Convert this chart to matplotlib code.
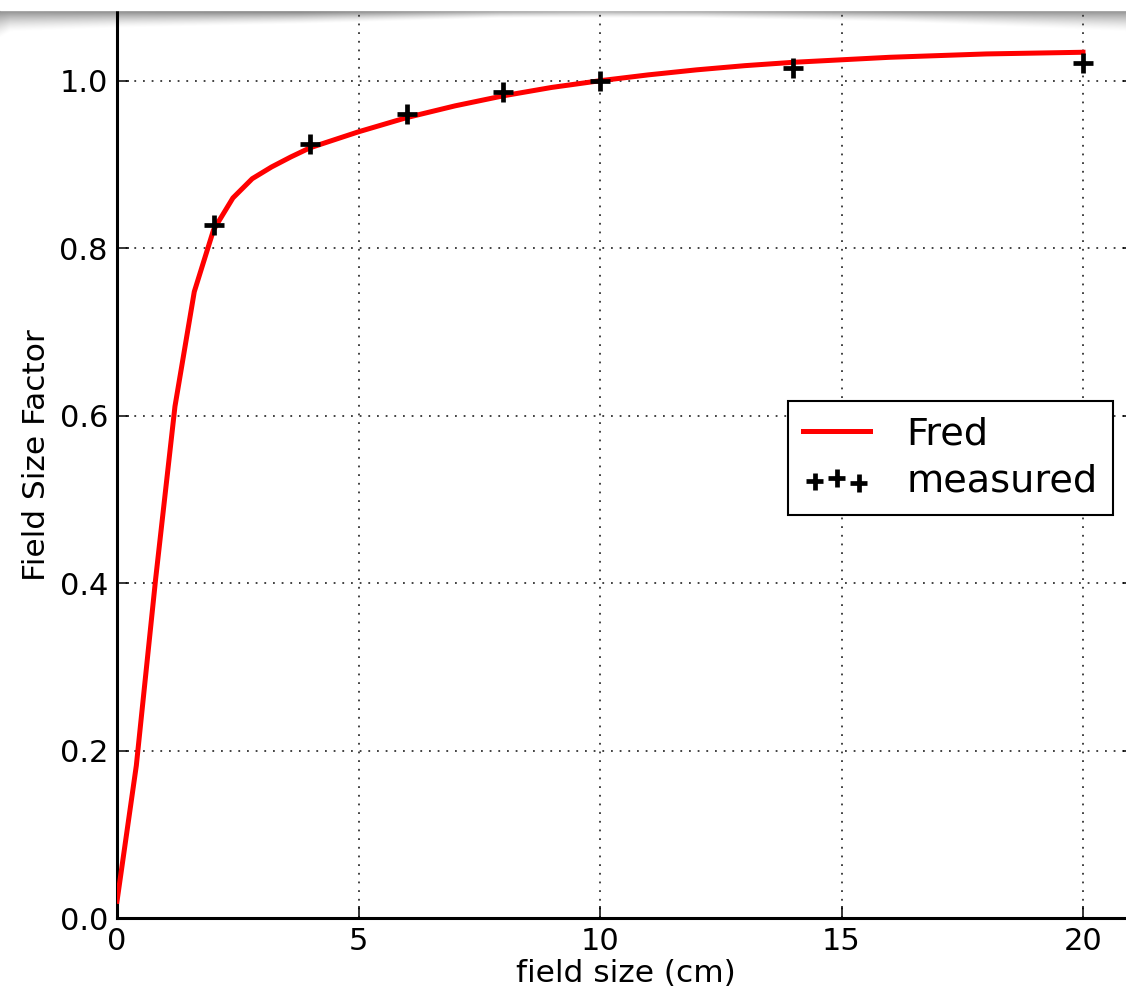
import numpy as np
import matplotlib
matplotlib.use("Agg")
import matplotlib.pyplot as plt
from matplotlib.patches import Rectangle

# model curve ("Fred")
fred_x = [0, 0.4, 0.8, 1.2, 1.6, 2.0, 2.4, 2.8, 3.2, 3.6, 4.0, 5, 6, 7, 8, 9, 10,
          11, 12, 13, 14, 15, 16, 17, 18, 19, 20]
fred_y = [0.02, 0.182, 0.405, 0.611, 0.748, 0.822, 0.860, 0.883, 0.897, 0.909, 0.920,
          0.939, 0.956, 0.970, 0.982, 0.992, 1.000, 1.007, 1.013, 1.018, 1.022,
          1.025, 1.028, 1.030, 1.032, 1.033, 1.034]

# measured points
meas_x = [2, 4, 6, 8, 10, 14, 20]
meas_y = [0.828, 0.925, 0.960, 0.986, 1.000, 1.015, 1.021]

x_ticks = [0, 5, 10, 15, 20]
y_ticks = [0.0, 0.2, 0.4, 0.6, 0.8, 1.0]

W, H = 1126, 999
fig = plt.figure(figsize=(W / 100, H / 100), dpi=100)
fig.patch.set_facecolor("white")
ax = fig.add_axes([117 / W, 81 / H, 1018 / W, 921 / H])
ax.set_facecolor("none")

ax.plot(fred_x, fred_y, color="#ff0000", lw=3.6, label="Fred", zorder=3)
ax.scatter(meas_x, meas_y, marker="+", s=210, c="k", linewidths=3.4, label="measured", zorder=4)

ax.set_xlim(0, 1018 / 48.3)
ax.set_ylim(0, 1.1)
ax.set_xticks(x_ticks)
ax.set_yticks(y_ticks)
ax.set_yticklabels(["%.1f" % v for v in y_ticks])
ax.grid(True, color="#333333", linestyle=(0, (1, 3.8)), lw=1.3)

ax.tick_params(direction="in", length=8.6, width=1.1, top=True, right=True,
               labelsize=22, pad=6.5)
for sp in ax.spines.values():
    sp.set_linewidth(2.2)

ax.set_xlabel("field size (cm)", fontsize=22.5, labelpad=2)
ax.set_ylabel("Field Size Factor", fontsize=22.5)
ax.yaxis.set_label_coords(-66 / 1018, (918 - 455) / 921)

leg = ax.legend(loc="center right", bbox_to_anchor=(1113 / W, 1 - 458 / H),
                bbox_transform=fig.transFigure, borderaxespad=0,
                fontsize=27.5, scatterpoints=3, scatteryoffsets=[0.375, 0.5, 0.3125],
                markerscale=0.85, fancybox=False, framealpha=1, edgecolor="k",
                handlelength=1.75, handletextpad=0.95, labelspacing=0.28, borderpad=0.4)
leg.get_frame().set_linewidth(1.5)

# white strip and grey shadow band along the top edge
fig.add_artist(Rectangle((0, 1 - 10 / H), 1, 10 / H, transform=fig.transFigure,
                         color="white", zorder=5))
band_h = 40
cols = np.arange(W)
thick = np.interp(cols, [0, 10, 120, 300, 500, 700, 900, 1126],
                  [28, 22, 18, 14, 8, 8, 12, 22])
dark = np.interp(cols, [0, 300, 600, 900, 1126], [0.45, 0.55, 0.4, 0.5, 0.45])
rows = np.arange(band_h)[:, None] - 10.0
fade = np.clip(1 - rows / thick[None, :], 0, 1) ** 1.5
fade = np.where(rows < 0, 0, fade)
band = np.zeros((band_h, W, 4))
band[..., 3] = dark[None, :] * fade
fig.figimage(band, xo=0, yo=H - band_h, origin="upper", zorder=-1)

fig.savefig("out.png", dpi=100)
